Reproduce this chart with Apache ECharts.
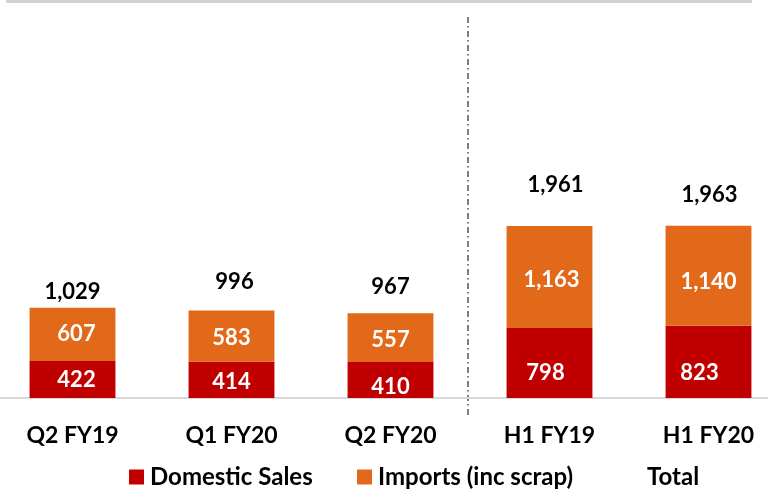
<!DOCTYPE html>
<html>
<head>
<meta charset="utf-8">
<script src="https://cdn.jsdelivr.net/npm/echarts@6/dist/echarts.min.js"></script>
<style>
  html, body { margin: 0; padding: 0; background: #fff; overflow: hidden; }
  #main { position: absolute; left: -7px; top: 0; width: 795px; height: 491px; }
</style>
</head>
<body>
<div id="main"></div>
<script>
let categories = ['Q2 FY19', 'Q1 FY20', 'Q2 FY20', 'H1 FY19', 'H1 FY20'];
let domestic = [422, 414, 410, 798, 823];
let imports = [607, 583, 557, 1163, 1140];
let totals = [1029, 996, 967, 1961, 1963];
// label nudges (px)
let totalNudge = [[0, 1], [3, -12], [0, -10], [6, -25], [1, -14]];
let domesticNudge = [[4, 0], [0, 2], [0, 7], [-4, 10], [-9, 11]];
let importsNudge = [[4, 0], [0, 2], [0, 2], [2, 3], [0, 6]];

let font = 'Lato, "Open Sans", sans-serif';
let red = '#C00000';
let orange = '#E2691A';
let sx = 7; // container shift

function fmt(v) {
    return v.toLocaleString('en-US');
}

function legendAt(name, left, icon) {
    return {
        top: 460,
        left: left + sx,
        itemWidth: 15,
        itemHeight: 15,
        itemGap: 0,
        textStyle: {
            fontFamily: font,
            fontWeight: 'bold',
            fontSize: 24,
            color: '#000',
            padding: [0, 0, 0, 1]
        },
        data: [{ name: name, icon: icon }]
    };
}

let myChart = echarts.init(document.getElementById('main'));
myChart.setOption({
    animation: false,
    grid: {
        left: 0,
        right: 0,
        top: 47,
        bottom: 93,
        containLabel: false
    },
    legend: [
        legendAt('Domestic Sales', 124, 'rect'),
        legendAt('Imports (inc scrap)', 352, 'rect'),
        legendAt('Total', 621, 'none')
    ],
    xAxis: {
        type: 'category',
        data: categories,
        axisTick: { show: false },
        axisLine: { lineStyle: { color: '#d9d9d9', width: 2 } },
        axisLabel: {
            margin: 26,
            fontFamily: font,
            fontWeight: 'bold',
            fontSize: 23,
            color: '#000'
        }
    },
    yAxis: {
        type: 'value',
        min: 0,
        max: 4000,
        show: false,
        splitLine: { show: false }
    },
    graphic: [
        {
            type: 'line',
            shape: { x1: 6 + sx, y1: 1.5, x2: 752 + sx, y2: 1.5 },
            style: { stroke: '#d2d2d2', lineWidth: 3 }
        },
        {
            type: 'line',
            shape: { x1: 468 + sx, y1: 17, x2: 468 + sx, y2: 418 },
            style: { stroke: '#555', lineWidth: 1.5, lineDash: [6, 3, 1.5, 3.5] }
        }
    ],
    series: [
        {
            name: 'Domestic Sales',
            type: 'bar',
            stack: 'a',
            barWidth: '54%',
            itemStyle: { color: red },
            data: domestic.map((v, i) => ({
                value: v,
                label: { offset: domesticNudge[i] }
            })),
            label: {
                show: true,
                position: 'inside',
                formatter: p => fmt(p.value),
                fontFamily: font,
                fontWeight: 'bold',
                fontSize: 22,
                color: '#fff'
            }
        },
        {
            name: 'Imports (inc scrap)',
            type: 'bar',
            stack: 'a',
            itemStyle: { color: orange },
            data: imports.map((v, i) => ({
                value: v,
                label: { offset: importsNudge[i] }
            })),
            label: {
                show: true,
                position: 'inside',
                formatter: p => fmt(p.value),
                fontFamily: font,
                fontWeight: 'bold',
                fontSize: 22,
                color: '#fff'
            }
        },
        {
            name: 'Total',
            type: 'line',
            symbol: 'circle',
            symbolSize: 1,
            itemStyle: { color: 'rgba(0,0,0,0)' },
            lineStyle: { opacity: 0 },
            data: totals.map((v, i) => ({
                value: v,
                label: { offset: totalNudge[i] }
            })),
            label: {
                show: true,
                position: 'top',
                distance: 5,
                formatter: p => fmt(p.value),
                fontFamily: font,
                fontWeight: 'bold',
                fontSize: 22,
                color: '#000'
            }
        }
    ]
});
</script>
</body>
</html>
